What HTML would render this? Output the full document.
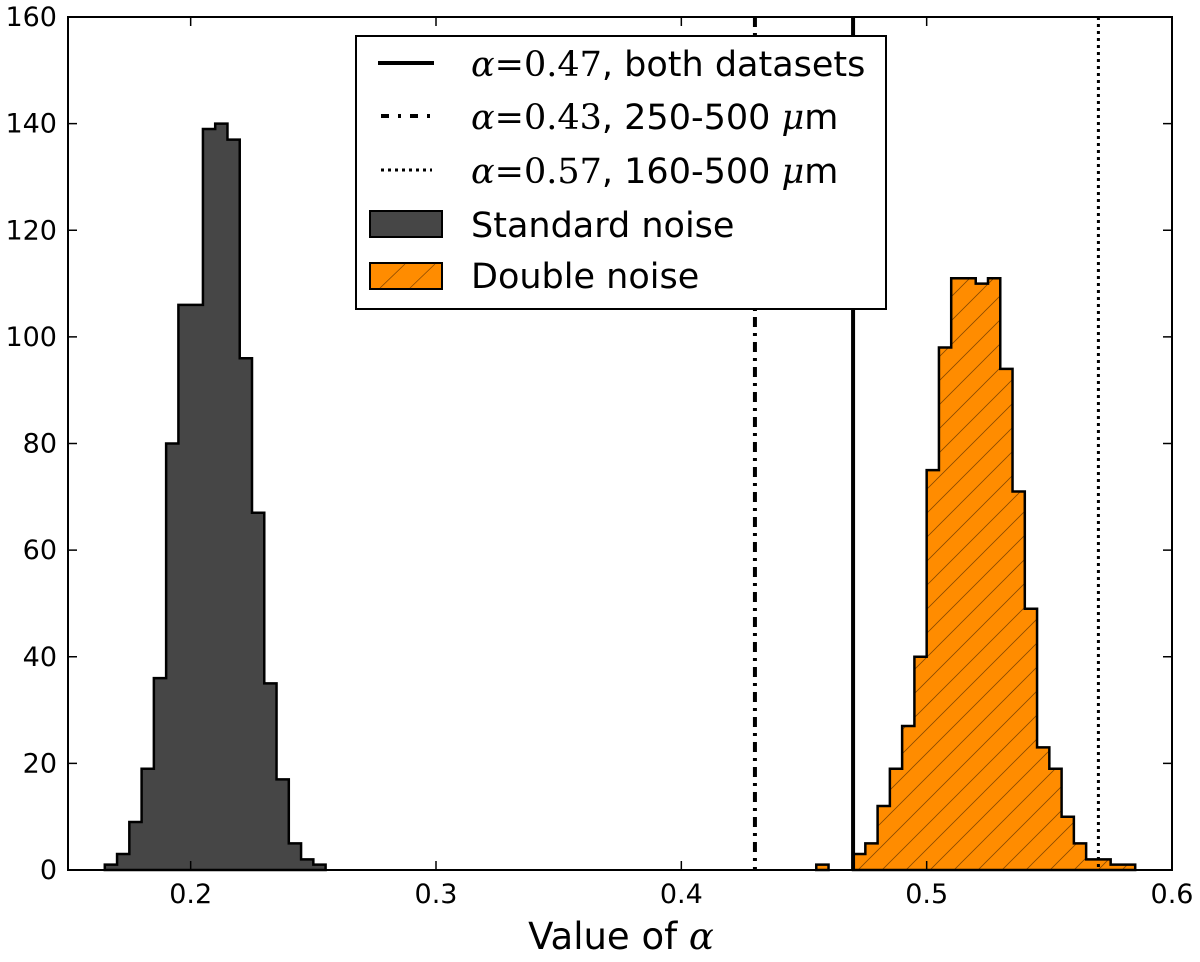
<!DOCTYPE html>
<html><head><meta charset="utf-8"><style>
body{margin:0;background:#fff}
svg{display:block;font-family:"DejaVu Sans","Liberation Sans",sans-serif}
</style></head><body>
<svg id="chart" width="1200" height="962">
<defs>
<pattern id="hatch" patternUnits="userSpaceOnUse" width="24" height="24">
<path d="M-6,30 L30,-6 M-18,18 L18,-18 M6,42 L42,6" stroke="#8a4a00" stroke-width="0.8"/>
</pattern>
</defs>
<g id="marks"></g>
<g id="axes"></g>
</svg>
<script>
const stdStart = 0.165;
const stdCounts = [1,3,9,19,36,80,106,106,139,140,137,96,67,35,17,5,2,1];
const dblOutlierStart = 0.455;
const dblOutlierCounts = [1];
const dblStart = 0.47;
const dblCounts = [3,5,12,19,27,40,75,98,111,111,110,111,94,71,49,23,19,10,5,2,2,1,1];
const binWidth = 0.005;
const vlines = [0.47, 0.43, 0.57];
const xTicks = [0.2,0.3,0.4,0.5,0.6];
const yTicks = [0,20,40,60,80,100,120,140,160];

const L=68,R=1172,T=17,B=870;
const X=v=>L+(v-0.15)/(0.6-0.15)*(R-L);
const Y=v=>B-v/160*(B-T);
const NS='http://www.w3.org/2000/svg';
function mk(tag,attrs,parent){const e=document.createElementNS(NS,tag);for(const k in attrs)e.setAttribute(k,attrs[k]);parent.appendChild(e);return e;}
const marks=document.getElementById('marks'), axes=document.getElementById('axes');

function hist(start,counts,fill,hatch,name){
  let d='M'+X(start)+','+Y(0);
  counts.forEach((c,i)=>{const x0=X(start+i*binWidth),x1=X(start+(i+1)*binWidth);
    d+=' L'+x0+','+Y(c)+' L'+x1+','+Y(c);});
  d+=' L'+X(start+counts.length*binWidth)+','+Y(0)+' Z';
  const p=mk('path',{d:d,fill:fill,stroke:'none'},marks);
  
  
  if(hatch){const h=mk('path',{d:d,fill:'url(#hatch)',stroke:'none'},marks);
    
    }
  const o=mk('path',{d:d,fill:'none',stroke:'#000','stroke-width':2.5,'stroke-linejoin':'miter'},marks);
  
  
}
hist(stdStart,stdCounts,'#464646',false,'standard-noise-histogram');
hist(dblOutlierStart,dblOutlierCounts,'#ff8c00',true,'double-noise-outlier-bar');
hist(dblStart,dblCounts,'#ff8c00',true,'double-noise-histogram');

const styles=[{w:4,da:''},{w:4,da:'10,6,3,6'},{w:3,da:'3,4'}];
vlines.forEach((v,i)=>{const l=mk('line',{x1:X(v),x2:X(v),y1:T,y2:B,stroke:'#000','stroke-width':styles[i].w,'stroke-dasharray':styles[i].da},marks);
  
  });

const f=mk('rect',{x:L,y:T,width:R-L,height:B-T,fill:'none',stroke:'#000','stroke-width':2},axes);


xTicks.forEach(t=>{const x=X(t);
  mk('line',{x1:x,x2:x,y1:B,y2:B-9,stroke:'#000','stroke-width':1.5},axes);
  mk('line',{x1:x,x2:x,y1:T,y2:T+9,stroke:'#000','stroke-width':1.5},axes);
  const tx=mk('text',{x:x,y:B+33,'font-size':27,'text-anchor':'middle','font-family':'DejaVu Sans, sans-serif'},axes);tx.textContent=t.toFixed(1);
  
  });
yTicks.forEach(t=>{const y=Y(t);
  mk('line',{x1:L,x2:L+9,y1:y,y2:y,stroke:'#000','stroke-width':1.5},axes);
  mk('line',{x1:R,x2:R-9,y1:y,y2:y,stroke:'#000','stroke-width':1.5},axes);
  const tx=mk('text',{x:57,y:y+9,'font-size':27,'text-anchor':'end','font-family':'DejaVu Sans, sans-serif'},axes);tx.textContent=t;
  
  });
</script>
<svg style="position:absolute;left:0;top:0" width="1200" height="962">
<text x="621" y="949" font-size="37" text-anchor="middle" font-family="DejaVu Sans,sans-serif">Value of <tspan font-family="DejaVu Serif,serif" font-style="italic">α</tspan></text>
<g>
<rect x="356" y="36" width="530" height="273" fill="#fff" stroke="#000" stroke-width="2"/>
<line x1="378" x2="434" y1="63" y2="63" stroke="#000" stroke-width="4"/>
<line x1="381" x2="434" y1="116" y2="116" stroke="#000" stroke-width="4" stroke-dasharray="8,9,3,9"/>
<line x1="381" x2="432" y1="170" y2="170" stroke="#000" stroke-width="3" stroke-dasharray="3,4"/>
<rect x="370" y="211" width="72" height="26" fill="#464646" stroke="#000" stroke-width="2"/>
<rect x="370" y="263" width="72" height="26" fill="#ff8c00" stroke="#000" stroke-width="2"/>
<path d="M380,288 L405,264 M410,288 L435,264" stroke="#8a4a00" stroke-width="0.8"/>
<g font-size="35" font-family="DejaVu Sans,sans-serif">
<text x="471" y="76"><tspan font-family="DejaVu Serif,serif" font-style="italic">α</tspan><tspan font-family="DejaVu Serif,serif">=0.47</tspan>, both datasets</text>
<text x="471" y="129"><tspan font-family="DejaVu Serif,serif" font-style="italic">α</tspan><tspan font-family="DejaVu Serif,serif">=0.43</tspan>, 250-500 <tspan font-family="DejaVu Serif,serif" font-style="italic">μ</tspan>m</text>
<text x="471" y="183"><tspan font-family="DejaVu Serif,serif" font-style="italic">α</tspan><tspan font-family="DejaVu Serif,serif">=0.57</tspan>, 160-500 <tspan font-family="DejaVu Serif,serif" font-style="italic">μ</tspan>m</text>
<text x="471" y="237">Standard noise</text>
<text x="471" y="288">Double noise</text>
</g>
</g>
</svg>
</body></html>
